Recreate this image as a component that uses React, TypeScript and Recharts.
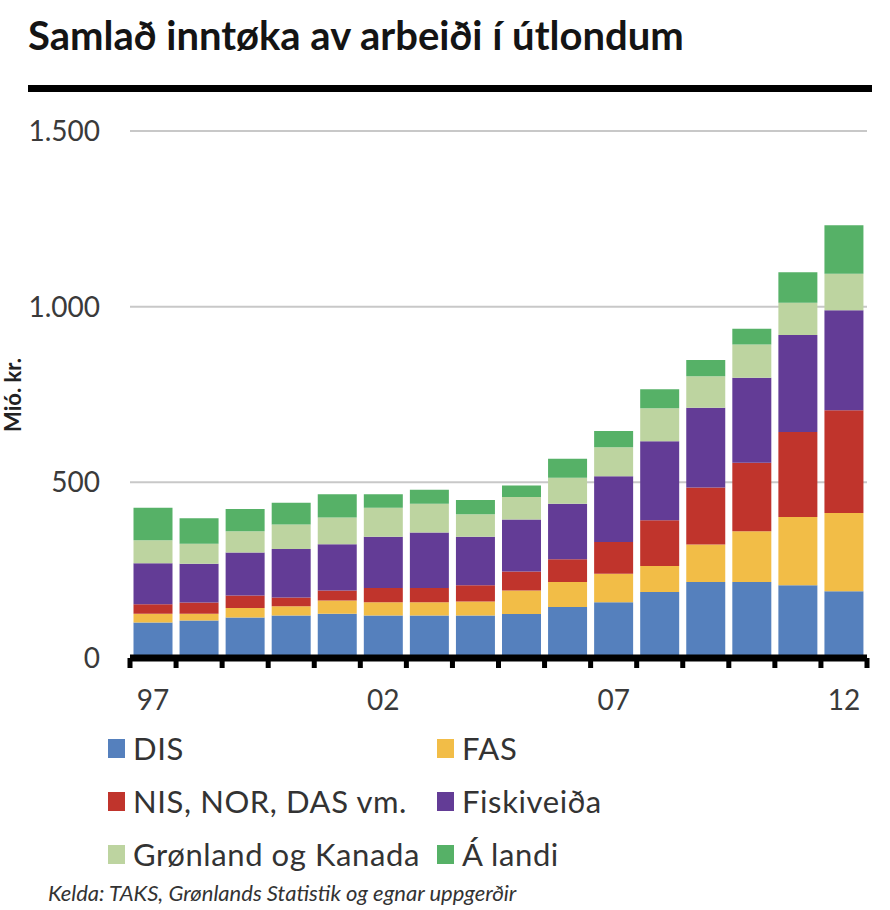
import { BarChart, Bar, XAxis, YAxis, CartesianGrid } from "recharts";

const years = ["97", "98", "99", "00", "01", "02", "03", "04", "05", "06", "07", "08", "09", "10", "11", "12"];
const dis = [101, 107, 115, 121, 126, 121, 121, 121, 125, 145, 159, 188, 216, 216, 207, 190];
const fas = [25, 19, 27, 26, 38, 38, 38, 40, 67, 71, 81, 74, 107, 145, 194, 223];
const nis = [27, 32, 36, 25, 28, 40, 40, 46, 54, 65, 90, 130, 162, 195, 242, 292];
const fisk = [117, 110, 122, 138, 132, 146, 158, 138, 148, 158, 187, 225, 227, 242, 276, 285];
const gron = [65, 57, 61, 70, 76, 83, 82, 64, 64, 74, 83, 94, 90, 94, 92, 104];
const landi = [93, 73, 63, 62, 66, 38, 40, 41, 33, 54, 46, 54, 46, 45, 87, 138];
const yTicks = [0, 500, 1000, 1500];

const series = [
  { key: "dis", name: "DIS", color: "#5580bd" },
  { key: "fas", name: "FAS", color: "#f2bd47" },
  { key: "nis", name: "NIS, NOR, DAS vm.", color: "#c0342c" },
  { key: "fisk", name: "Fiskiveiða", color: "#633c96" },
  { key: "gron", name: "Grønland og Kanada", color: "#bdd4a0" },
  { key: "landi", name: "Á landi", color: "#56b167" },
];

const data = years.map((year, i) => ({
  year,
  dis: dis[i],
  fas: fas[i],
  nis: nis[i],
  fisk: fisk[i],
  gron: gron[i],
  landi: landi[i],
}));

const FONT = "Lato, 'Open Sans', sans-serif";
const PLOT_W = 890 - 130 - 23;
const BAND = PLOT_W / years.length;

const fmt = (v: number) => (v >= 1000 ? `${Math.floor(v / 1000)}.${String(v % 1000).padStart(3, "0")}` : String(v));

function YearTick(props: any) {
  const { x, y, index, payload } = props;
  const last = index === years.length - 1;
  return (
    <g>
      <rect x={x - BAND / 2 - 2.5} y={y} width={5} height={10} fill="#000" />
      {last && <rect x={x + BAND / 2 - 2.5} y={y} width={5} height={10} fill="#000" />}
      {index % 5 === 0 && (
        <text x={x} y={y + 52} textAnchor="middle" fontSize={28} fontFamily={FONT} fill="#3a3a3a">
          {payload.value}
        </text>
      )}
    </g>
  );
}

export default function App() {
  return (
    <div style={{ position: "absolute", left: 0, top: 0, width: 890, height: 910, background: "#fff", overflow: "hidden", fontFamily: FONT }}>
      <div style={{ position: "absolute", left: 28, top: 11, fontSize: 40, fontWeight: 700, color: "#141414", whiteSpace: "nowrap" }}>
        Samlað inntøka av arbeiði í útlondum
      </div>
      <div style={{ position: "absolute", left: 28, top: 85, width: 844, height: 7, background: "#000" }} />

      <div style={{ position: "absolute", left: 0, top: 0 }}>
        <BarChart width={890} height={720} data={data} margin={{ top: 131, right: 23, bottom: 12, left: 30 }} barCategoryGap={3.5}>
          <CartesianGrid vertical={false} stroke="#c8c8c8" strokeWidth={2} />
          <YAxis
            width={100}
            domain={[0, 1500]}
            ticks={yTicks}
            tickFormatter={fmt}
            axisLine={false}
            tickLine={false}
            tickSize={0}
            tickMargin={30}
            tick={{ fontSize: 28, fontFamily: FONT, fill: "#3a3a3a" }}
          />
          <XAxis
            dataKey="year"
            interval={0}
            height={50}
            tickLine={false}
            tickSize={0}
            tickMargin={0}
            axisLine={{ stroke: "#000", strokeWidth: 7 }}
            tick={<YearTick />}
          />
          {series.map((s) => (
            <Bar key={s.key} dataKey={s.key} name={s.name} stackId="a" fill={s.color} isAnimationActive={false} />
          ))}
        </BarChart>
      </div>

      <div
        style={{
          position: "absolute",
          left: 12,
          top: 395,
          transform: "translate(-50%, -50%) rotate(-90deg)",
          fontSize: 22,
          fontWeight: 700,
          color: "#222",
          whiteSpace: "nowrap",
        }}
      >
        Mió. kr.
      </div>

      {series.map((s, i) => {
        const col = i % 2;
        const row = Math.floor(i / 2);
        const cy = 748 + row * 53;
        const sx = col === 0 ? 108 : 437;
        return (
          <div key={s.key} style={{ position: "absolute", left: sx, top: cy - 18, height: 36, display: "flex", alignItems: "center", whiteSpace: "nowrap" }}>
            <div style={{ width: 17, height: 19, background: s.color, marginRight: 8 }} />
            <span style={{ fontSize: 31, letterSpacing: 0.6, color: "#333" }}>{s.name}</span>
          </div>
        );
      })}

      <div style={{ position: "absolute", left: 48, top: 879, fontSize: 22, fontStyle: "italic", color: "#333", whiteSpace: "nowrap" }}>
        Kelda: TAKS, Grønlands Statistik og egnar uppgerðir
      </div>
    </div>
  );
}
